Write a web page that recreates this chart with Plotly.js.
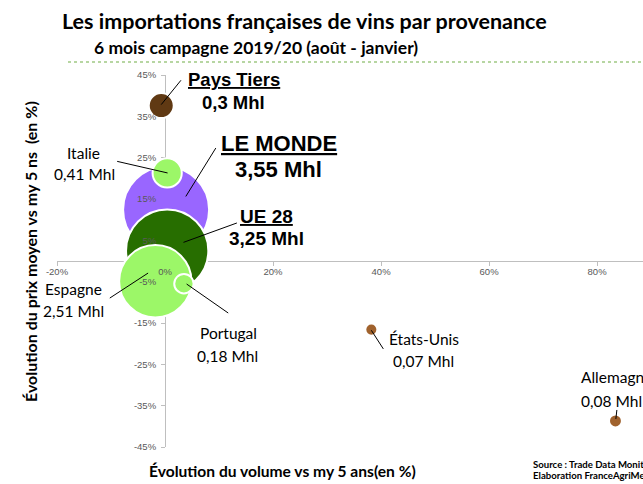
<!DOCTYPE html>
<html><head><meta charset="utf-8">
<script src="https://cdn.plot.ly/plotly-3.0.1.min.js"></script>
<style>html,body{margin:0;padding:0;overflow:hidden;background:#fff}</style>
</head><body>
<div id="chart" style="width:643px;height:484px"></div>
<script>
// ---- data ----
const pays = ['LE MONDE','UE 28','Italie','Espagne','Portugal','Pays Tiers','États-Unis','Allemagne'];
const volumeMhl = [3.55, 3.25, 0.41, 2.51, 0.18, 0.3, 0.07, 0.08];
const evolVolume = [0.2, 0.4, 0.4, -1.8, 3.5, -0.7, 38.2, 83.4];   // % vs my 5 ans
const evolPrix = [12.4, 2.5, 21.3, -4.9, -5.5, 37.6, -16.6, -38.7]; // % vs my 5 ans
const xTicks = [-20, 0, 20, 40, 60, 80];
const yTicks = [45, 35, 25, 15, 5, -5, -15, -25, -35, -45];

// ---- styles / label placement (pixels) ----
const colors = ['#9966ff','#276e00','#9cf768','#9cf768','#9cf768','#603913','#a0622d','#a0622d'];
const big = [true, true, false, false, false, true, false, false];
const bigSize = [22, 19, 0, 0, 0, 18.5, 0, 0];
const nameOff = [[113,66],[99.3,34.3],[-83.8,20.3],[-82.2,-7.8],[44.3,-49.3],[72.7,26],[52.5,-9.3],[1,44.3]];
const volOff  = [[112.7,40],[99.5,12],[-82.8,-0.7],[-81.7,-29.5],[43.5,-72],[72.4,3.3],[52,-31.7],[-4,20.3]];
const leader  = [[49.7,61.7,19.7,13.3],[69.7,27.7,16.3,8.3],[-50,11.6,0.4,0],[-45.5,-16.8,-7.2,8.2],
                 [2.7,-0.3,44.3,-29.3],[19.7,25.3,0,1],[0,-0.7,12,-19.3],[1.4,11,0.4,2]];

const XR = [-20, 88.5], YR = [-45, 45];
const regFont = 'Lato, "Open Sans", sans-serif';
const boldFont = '"Liberation Sans", Arial, sans-serif';
const tickFont = {family: boldFont, size: 9.5, color: '#595959'};

const traces = [{
  type: 'scatter', mode: 'markers', x: evolVolume, y: evolPrix, text: pays,
  marker: {size: volumeMhl, sizemode: 'area', sizeref: 3.55/(2*43*43),
           color: colors, opacity: 1, line: {color: '#ffffff', width: 2}},
  hoverinfo: 'text', showlegend: false, cliponaxis: false
},{
  type: 'scatter', mode: 'markers', x: [], y: [], xaxis: 'x2', yaxis: 'y2', showlegend: false
}];

const annotations = [];
const shapes = [];
pays.forEach((p, i) => {
  const vol = String(volumeMhl[i]).replace('.', ',') + ' Mhl';
  const f = big[i] ? {family: boldFont, size: bigSize[i], color: '#000'} : {family: regFont, size: 15.5, color: '#000'};
  annotations.push({x: evolVolume[i], y: evolPrix[i], xref: 'x', yref: 'y', showarrow: false,
    text: big[i] ? '<b><u>' + p + '</u></b>' : p, font: f,
    xshift: nameOff[i][0], yshift: nameOff[i][1], xanchor: 'center', yanchor: 'middle'});
  annotations.push({x: evolVolume[i], y: evolPrix[i], xref: 'x', yref: 'y', showarrow: false,
    text: big[i] ? '<b>' + vol + '</b>' : vol, font: f,
    xshift: volOff[i][0], yshift: volOff[i][1], xanchor: 'center', yanchor: 'middle'});
  const L = leader[i];
  shapes.push({type: 'line', layer: 'above', xref: 'x', yref: 'y',
    xsizemode: 'pixel', ysizemode: 'pixel', xanchor: evolVolume[i], yanchor: evolPrix[i],
    x0: L[0], y0: L[1], x1: L[2], y1: L[3], line: {color: '#000', width: 1}});
});

const W = 586, H = 372, L0 = 57, T0 = 75;
const px = v => (v - L0) / W, py = v => (T0 + H - v) / H;

annotations.push({xref: 'paper', yref: 'paper', x: px(92), y: py(47), xanchor: 'left', yanchor: 'middle',
  showarrow: false, text: '<b>6 mois campagne 2019/20 (août - janvier)</b>', font: {family: regFont, size: 17.5, color: '#000'}});
annotations.push({xref: 'paper', yref: 'paper', x: px(282), y: py(471), xanchor: 'center', yanchor: 'middle',
  showarrow: false, text: '<b>Évolution du volume vs my 5 ans(en %)</b>', font: {family: regFont, size: 15.6, color: '#000'}});
annotations.push({xref: 'paper', yref: 'paper', x: px(30), y: py(252), xanchor: 'center', yanchor: 'middle', textangle: -90,
  showarrow: false, text: '<b>Évolution du prix moyen vs my 5 ns  (en %)</b>', font: {family: regFont, size: 16, color: '#000'}});
annotations.push({xref: 'paper', yref: 'paper', x: px(531), y: py(464), xanchor: 'left', yanchor: 'middle',
  showarrow: false, text: '<b>Source : Trade Data Monitor</b>', font: {family: regFont, size: 9.6, color: '#000'}});
annotations.push({xref: 'paper', yref: 'paper', x: px(531), y: py(475), xanchor: 'left', yanchor: 'middle',
  showarrow: false, text: '<b>Elaboration FranceAgriMer</b>', font: {family: regFont, size: 9.6, color: '#000'}});

shapes.push({type: 'line', xref: 'paper', yref: 'paper', x0: px(68), x1: 1, y0: py(62), y1: py(62),
  line: {color: '#70ad47', width: 1.2, dash: 'dot'}});

const xPos = (0 - YR[0]) / (YR[1] - YR[0]);
const yPos = (0 - XR[0]) / (XR[1] - XR[0]);
const xBase = {range: XR, anchor: 'free', position: xPos, tickvals: xTicks, ticktext: xTicks.map(v => v + '%'),
  ticks: 'outside', ticklen: 4, showgrid: false, zeroline: false, tickfont: tickFont, fixedrange: true};
const yBase = {range: YR, anchor: 'free', position: yPos, tickvals: yTicks, ticktext: yTicks.map(v => v + '%'),
  ticks: 'outside', ticklen: 4, showgrid: false, zeroline: false, tickfont: tickFont, fixedrange: true};

const layout = {
  width: 643, height: 484,
  margin: {l: L0, r: 643 - L0 - W, t: T0, b: 484 - T0 - H},
  paper_bgcolor: '#fff', plot_bgcolor: 'rgba(0,0,0,0)',
  title: {text: '<b>Les importations françaises de vins par provenance</b>', x: 62/643, xanchor: 'left',
          xref: 'container', y: 1 - 21/484, yanchor: 'middle', font: {family: regFont, size: 21.5, color: '#000'}},
  xaxis: Object.assign({}, xBase, {showline: true, linecolor: '#bfbfbf', linewidth: 1.3, tickcolor: '#bfbfbf',
    showticklabels: false, layer: 'below traces'}),
  yaxis: Object.assign({}, yBase, {showline: true, linecolor: '#bfbfbf', linewidth: 1.3, tickcolor: '#bfbfbf',
    showticklabels: false, layer: 'below traces'}),
  xaxis2: Object.assign({}, xBase, {overlaying: 'x', showline: false, tickcolor: 'rgba(0,0,0,0)', ticklen: 2,
    showticklabels: true, layer: 'above traces'}),
  yaxis2: Object.assign({}, yBase, {overlaying: 'y', showline: false, tickcolor: 'rgba(0,0,0,0)', ticklen: 7,
    showticklabels: true, layer: 'above traces'}),
  annotations: annotations, shapes: shapes, showlegend: false
};
Plotly.newPlot('chart', traces, layout, {displayModeBar: false, staticPlot: true});
</script>
</body></html>
